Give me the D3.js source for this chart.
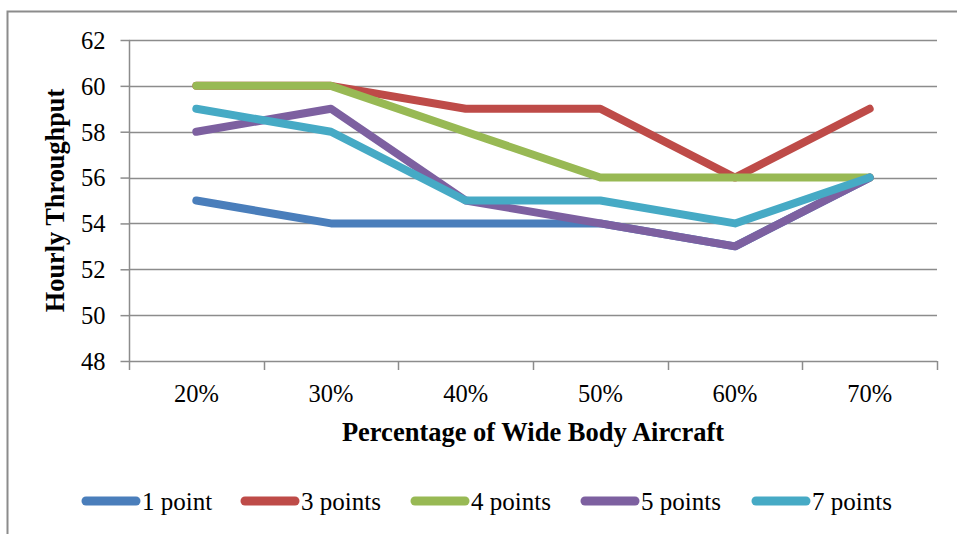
<!DOCTYPE html>
<html><head><meta charset="utf-8">
<script src="https://cdn.jsdelivr.net/npm/d3@7"></script>
<style>body{margin:0;background:#fff}svg{display:block}</style>
</head><body>
<script>
const categories = ["20%","30%","40%","50%","60%","70%"];
const seriesNames = ["1 point","3 points","4 points","5 points","7 points"];
const onePoint   = [55,54,54,54,53,56];
const threePoints= [60,60,59,59,56,59];
const fourPoints = [60,60,58,56,56,56];
const fivePoints = [58,59,55,54,53,56];
const sevenPoints= [59,58,55,55,54,56];
const yTicks = [48,50,52,54,56,58,60,62];
const colors = ["#4a7ebb","#be4b48","#98b954","#7d60a0","#46aac5"];
const seriesValues = [onePoint,threePoints,fourPoints,fivePoints,sevenPoints];

const W=957,H=534;
const svg=d3.select("body").append("svg").attr("width",W).attr("height",H);
svg.append("rect").attr("x",7.5).attr("y",11.5).attr("width",W+10).attr("height",H+10)
  .attr("fill","#fff").attr("stroke","#8c8c8c").attr("stroke-width",2);

const L=129,R=937,T=40,B=361;
const x=d3.scaleBand().domain(categories).range([L,R]);
const y=d3.scaleLinear().domain([48,62]).range([B,T]);
const font="'Liberation Serif','Times New Roman',serif";

// grid
svg.append("g").selectAll("line").data(yTicks.filter(d=>d>48)).join("line")
  .attr("x1",L).attr("x2",R).attr("y1",d=>Math.round(y(d))+0.5).attr("y2",d=>Math.round(y(d))+0.5)
  .attr("stroke","#8c8c8c").attr("stroke-width",1.5);

// y axis
const ya=svg.append("g").attr("transform",`translate(${L+0.5},0)`)
  .call(d3.axisLeft(y).tickValues(yTicks).tickSize(9).tickPadding(15));
ya.attr("font-family",font);
ya.selectAll("line").attr("stroke","#8c8c8c").attr("stroke-width",1.5);
ya.select(".domain").attr("stroke","#8c8c8c").attr("stroke-width",1.5).attr("d",`M0,${T}V${B}`);
ya.selectAll("text").attr("font-family",font).attr("font-size",24.5).attr("fill","#000").attr("dy","0.34em");

// x axis
const xa=svg.append("g").attr("transform",`translate(0,${Math.round(B)+0.5})`)
  .call(d3.axisBottom(x).tickSize(0));
xa.attr("font-family",font);
xa.select(".domain").attr("stroke","#8c8c8c").attr("stroke-width",1.5).attr("d",`M${L},0H${R}`);
xa.selectAll("text").attr("font-family",font).attr("font-size",24.5).attr("fill","#000")
  .attr("y",40.5).attr("dy",0);
const bounds=categories.map(c=>x(c)).concat([R]);
svg.append("g").selectAll("line").data(bounds).join("line")
  .attr("x1",d=>Math.round(d)+0.5).attr("x2",d=>Math.round(d)+0.5)
  .attr("y1",B).attr("y2",B+9).attr("stroke","#8c8c8c").attr("stroke-width",1.5);

// titles
svg.append("text").attr("x",533).attr("y",441).attr("text-anchor","middle")
  .attr("font-family",font).attr("font-size",26.5).attr("font-weight","bold")
  .text("Percentage of Wide Body Aircraft");
svg.append("text").attr("transform",`translate(64,200.5) rotate(-90)`).attr("text-anchor","middle")
  .attr("font-family",font).attr("font-size",26.3).attr("font-weight","bold")
  .text("Hourly Throughput");

// lines
const line=d3.line().x((d,i)=>x(categories[i])+x.bandwidth()/2).y(d=>y(d));
svg.append("g").selectAll("path").data(seriesValues).join("path")
  .attr("d",d=>line(d)).attr("fill","none").attr("stroke",(d,i)=>colors[i])
  .attr("stroke-width",8).attr("stroke-linecap","round").attr("stroke-linejoin","round");

// legend
const legX=[142,301,471,641,812];
const lg=svg.append("g").selectAll("g").data(seriesNames).join("g")
  .attr("transform",(d,i)=>`translate(${legX[i]},501)`);
lg.append("line").attr("x1",-56).attr("x2",-6).attr("y1",0).attr("y2",0)
  .attr("stroke",(d,i)=>colors[i]).attr("stroke-width",9).attr("stroke-linecap","round");
lg.append("text").attr("x",0).attr("y",9).attr("font-family",font).attr("font-size",25)
  .text(d=>d);
</script>
</body></html>
